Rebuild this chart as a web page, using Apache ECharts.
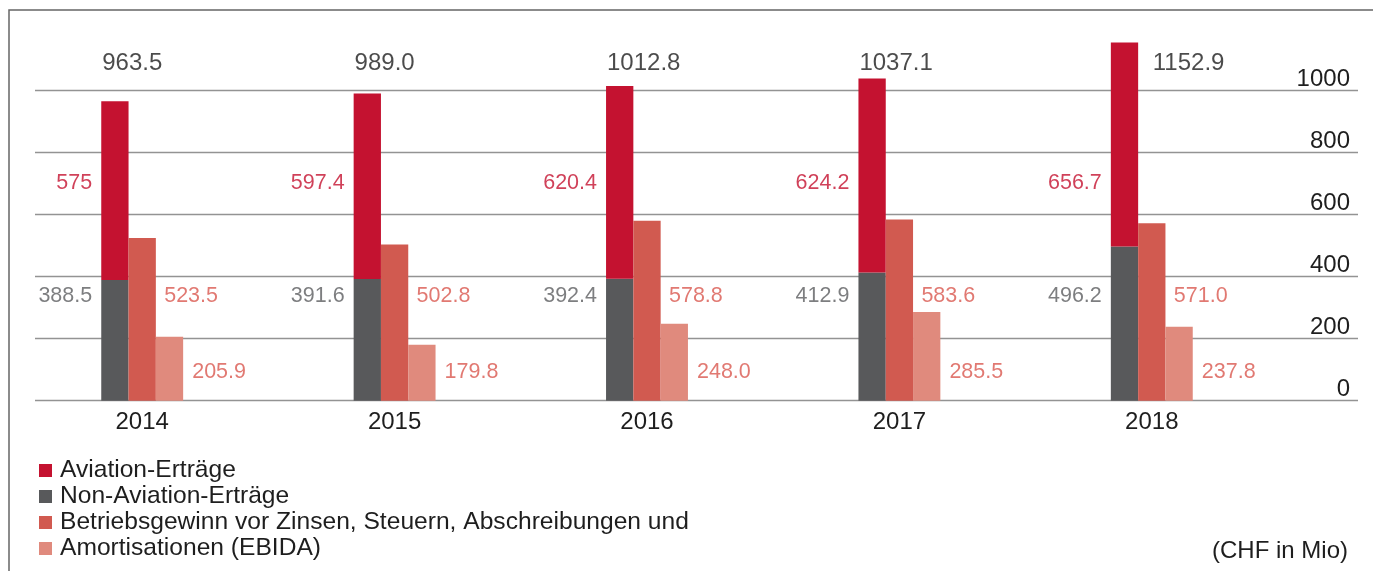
<!DOCTYPE html>
<html>
<head>
<meta charset="utf-8">
<script src="https://cdn.jsdelivr.net/npm/echarts@6/dist/echarts.min.js"></script>
<style>
  html, body { margin: 0; padding: 0; background: #fff; }
  #chart { width: 1373px; height: 571px; }
</style>
</head>
<body>
<div id="chart"></div>
<script>
const years = ['2014', '2015', '2016', '2017', '2018'];
const aviation = [575, 597.4, 620.4, 624.2, 656.7];
const nonAviation = [388.5, 391.6, 392.4, 412.9, 496.2];
const ebida = [523.5, 502.8, 578.8, 583.6, 571.0];
const amort = [205.9, 179.8, 248.0, 285.5, 237.8];
const yTicks = [0, 200, 400, 600, 800, 1000];

const names = [
  'Aviation-Erträge',
  'Non-Aviation-Erträge',
  'Betriebsgewinn vor Zinsen, Steuern, Abschreibungen und',
  'Amortisationen (EBIDA)'
];
const colors = ['#c41230', '#58595b', '#d15a50', '#e08a7d'];
const FONT = "'Liberation Sans', Arial, Helvetica, sans-serif";

// totals of the stacked bar
const totals = aviation.map((v, i) => v + nonAviation[i]);

// fixed label rows (in axis units), the labels in the original sit on rows
const ROW_TOTAL = 1087;
const ROW_AVIATION = 701;
const ROW_MID = 337;
const ROW_LOW = 91;

const chart = echarts.init(document.getElementById('chart'), null, { renderer: 'canvas' });

function labelRow(row, values, fmt, color, align, dx, fontSize, extra) {
  return {
    type: 'scatter',
    xAxisIndex: 1,
    yAxisIndex: 1,
    symbolSize: 1,
    clip: false,
    silent: true,
    itemStyle: { color: 'transparent' },
    data: values.map((v, i) => {
      const item = { value: [years[i], row, v] };
      if (extra && extra[i]) item.label = extra[i];
      return item;
    }),
    label: {
      show: true,
      position: 'inside',
      align: align,
      offset: [dx, 0],
      fontFamily: FONT,
      fontSize: fontSize,
      color: color,
      formatter: p => fmt(p.value[2])
    },
    z: 5
  };
}

const barBase = {
  type: 'bar',
  xAxisIndex: 1,
  yAxisIndex: 1,
  barWidth: 27.3,
  barGap: '0%',
  clip: false,
  silent: true
};

chart.setOption({
  animation: false,
  textStyle: { fontFamily: FONT },
  grid: [
    { left: 35, right: 15, top: 90, bottom: 170.3 },
    { left: 16, right: 95, top: 90, bottom: 170.3 }
  ],
  xAxis: [
    { gridIndex: 0, type: 'value', show: false },
    {
      gridIndex: 1,
      type: 'category',
      data: years,
      axisLine: { show: false },
      axisTick: { show: false },
      axisLabel: { fontSize: 24, color: '#1e1e1e', margin: 10, fontFamily: FONT }
    }
  ],
  yAxis: [
    {
      gridIndex: 0,
      type: 'value',
      position: 'right',
      min: yTicks[0],
      max: yTicks[yTicks.length - 1],
      interval: yTicks[1] - yTicks[0],
      axisLine: { show: false },
      axisTick: { show: false },
      splitLine: { lineStyle: { color: '#939393', width: 1.3 } },
      axisLabel: {
        inside: true,
        margin: 8,
        fontSize: 24,
        color: '#1e1e1e',
        fontFamily: FONT,
        verticalAlign: 'bottom',
        lineHeight: 22,
        formatter: v => String(v)
      }
    },
    {
      gridIndex: 1,
      type: 'value',
      min: yTicks[0],
      max: yTicks[yTicks.length - 1],
      show: false
    }
  ],
  legend: {
    orient: 'vertical',
    left: 34,
    top: 453,
    height: 118,
    data: names,
    icon: 'rect',
    itemWidth: 13,
    itemHeight: 13,
    itemGap: 1,
    selectedMode: false,
    textStyle: {
      fontSize: 24.6,
      color: '#1e1e1e',
      fontFamily: FONT,
      padding: [0, 0, 0, 3]
    }
  },
  graphic: [
    {
      type: 'polyline',
      shape: { points: [[9, 571], [9, 10], [1373, 10]] },
      style: { stroke: '#666', lineWidth: 1.5, fill: null },
      silent: true
    },
    {
      type: 'text',
      right: 25,
      top: 539,
      style: { text: '(CHF in Mio)', fontSize: 24, fill: '#1e1e1e', fontFamily: FONT },
      silent: true
    }
  ],
  series: [
    Object.assign({}, barBase, { name: names[1], stack: 'rev', data: nonAviation, itemStyle: { color: colors[1] } }),
    Object.assign({}, barBase, { name: names[0], stack: 'rev', data: aviation, itemStyle: { color: colors[0] } }),
    Object.assign({}, barBase, { name: names[2], data: ebida, itemStyle: { color: colors[2] } }),
    Object.assign({}, barBase, { name: names[3], data: amort, itemStyle: { color: colors[3] } }),
    labelRow(ROW_TOTAL, totals, v => v.toFixed(1), '#1e1e1e', 'left', -40, 24,
      [null, null, null, null, { offset: [1, 0] }]),
    labelRow(ROW_AVIATION, aviation, v => String(v), '#c41230', 'right', -50, 21.5),
    labelRow(ROW_MID, nonAviation, v => v.toFixed(1), '#5d5e60', 'right', -50, 21.5),
    labelRow(ROW_MID, ebida, v => v.toFixed(1), '#d9584f', 'left', 22, 21.5),
    labelRow(ROW_LOW, amort, v => v.toFixed(1), '#d9584f', 'left', 50, 21.5)
  ]
});
</script>
</body>
</html>
